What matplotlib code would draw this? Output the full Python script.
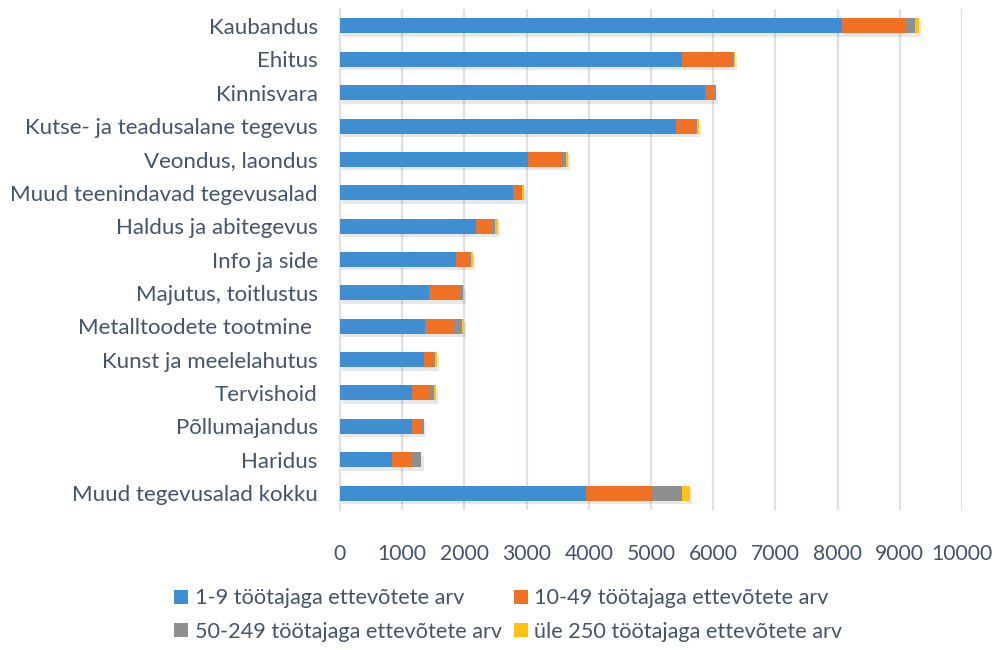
import matplotlib.pyplot as plt
import matplotlib.patheffects as pe
from matplotlib.patches import Patch

plt.rcParams['font.family'] = ['Lato', 'DejaVu Sans']

# categories top to bottom
categories = [
    "Kaubandus", "Ehitus", "Kinnisvara", "Kutse- ja teadusalane tegevus",
    "Veondus, laondus", "Muud teenindavad tegevusalad", "Haldus ja abitegevus",
    "Info ja side", "Majutus, toitlustus", "Metalltoodete tootmine ",
    "Kunst ja meelelahutus", "Tervishoid", "Põllumajandus", "Haridus",
    "Muud tegevusalad kokku",
]
s_1_9 = [8070, 5500, 5870, 5400, 3020, 2780, 2180, 1865, 1430, 1365, 1350, 1160, 1160, 835, 3955]
s_10_49 = [1015, 790, 145, 320, 535, 145, 265, 215, 500, 455, 165, 290, 150, 310, 1060]
s_50_249 = [160, 40, 30, 25, 75, 5, 50, 25, 50, 140, 20, 65, 40, 155, 480]
s_250 = [65, 20, 5, 20, 30, 30, 40, 30, 15, 35, 20, 30, 0, 10, 125]

series_names = [
    "1-9 töötajaga ettevõtete arv", "10-49 töötajaga ettevõtete arv",
    "50-249 töötajaga ettevõtete arv", "üle 250 töötajaga ettevõtete arv",
]
colors = ["#3F8ED1", "#F07123", "#8F8F8F", "#FFC20E"]
txt = "#44546A"
grid_c = "#DDE2EA"

fig = plt.figure(figsize=(9.92, 6.5), dpi=100)
ax = fig.add_axes([340 / 992, 1 - 509.7 / 650, 622 / 992, 500.4 / 650])

y = list(range(len(categories)))
left = [0] * len(categories)
shadow = [pe.SimplePatchShadow(offset=(1.5, -2.5), shadow_rgbFace="#000000", alpha=0.09), pe.Normal()]
for vals, col in zip([s_1_9, s_10_49, s_50_249, s_250], colors):
    bars = ax.barh(y, vals, left=left, height=0.45, color=col, zorder=3)
    for b in bars:
        b.set_path_effects(shadow)
    left = [l + v for l, v in zip(left, vals)]

ax.set_ylim(len(categories) - 0.5, -0.5)
ax.set_yticks(y)
ax.set_yticklabels(categories, fontsize=16, color=txt)
ax.set_xlim(0, 10000)
ax.set_xticks(range(0, 10001, 1000))
ax.tick_params(axis='x', labelsize=15.2, labelcolor=txt, length=0, pad=25)
ax.tick_params(axis='y', length=0, pad=16)
ax.grid(axis='x', color=grid_c, linewidth=1.6, zorder=0)
for s in ['top', 'right', 'bottom']:
    ax.spines[s].set_visible(False)
ax.spines['left'].set_color(grid_c)
ax.spines['left'].set_linewidth(1.6)

# legend: 2 columns, order row-wise as in reference
handles = [Patch(facecolor=c) for c in colors]
order = [0, 2, 1, 3]
fig.legend([handles[i] for i in order], [series_names[i] for i in order], ncol=2,
           loc='center left', bbox_to_anchor=(174 / 992, 1 - 615 / 650),
           frameon=False, fontsize=15.6, labelcolor=txt, handlelength=0.65,
           handleheight=0.65, handletextpad=0.3, borderaxespad=0, borderpad=0,
           columnspacing=0.55, labelspacing=0.6)

fig.savefig("out.png", dpi=100)
